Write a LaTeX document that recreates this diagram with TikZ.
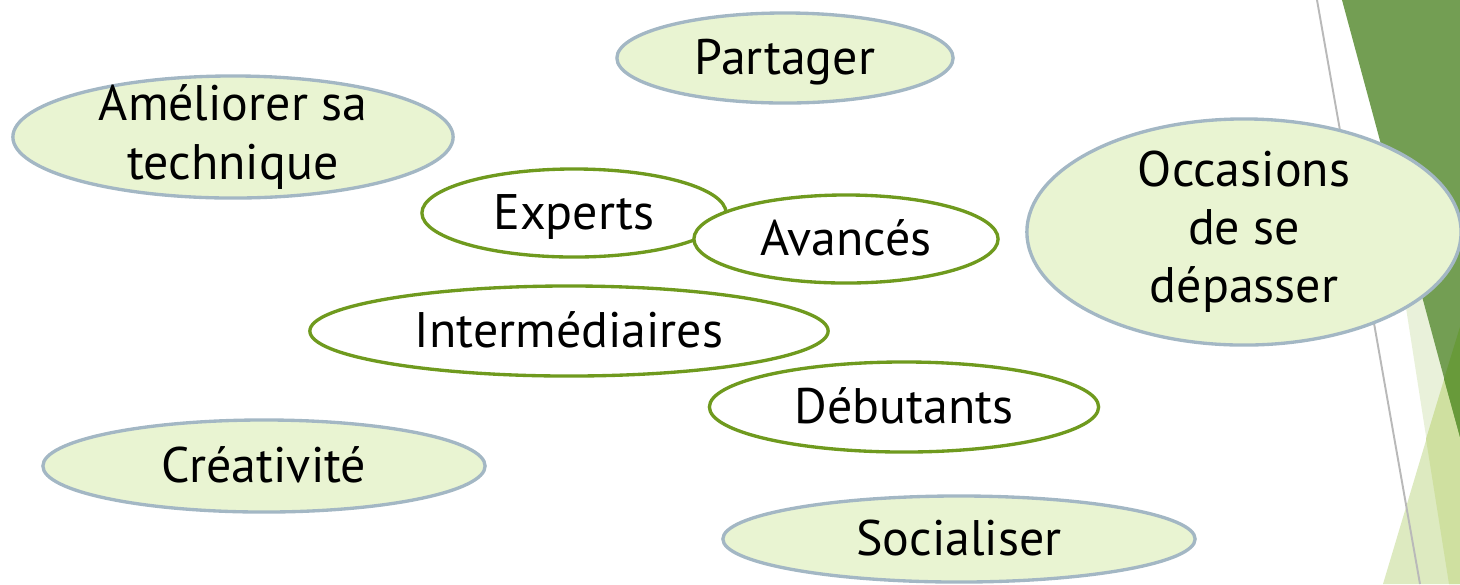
\documentclass[tikz,border=0pt]{standalone}
\usepackage{fontspec}
\setmainfont{PT Sans}
\usetikzlibrary{shapes.geometric}
\definecolor{lightgreen}{RGB}{233,244,210}
\definecolor{bordergray}{RGB}{163,183,196}
\definecolor{olive}{RGB}{111,154,30}
\definecolor{darkgreen}{RGB}{115,158,83}
\definecolor{midgreen}{RGB}{104,154,58}
\definecolor{palegreen}{RGB}{233,241,218}
\definecolor{leafgreen}{RGB}{221,234,192}
\definecolor{overlapgreen}{RGB}{207,224,160}

\begin{document}
\begin{tikzpicture}[x=0.01cm,y=-0.01cm,
		bubble/.style={draw=bordergray,fill=lightgreen,ellipse,line width=0.95pt,inner sep=0pt,align=center,font=\fontsize{14.2}{16.5}\selectfont},
		level/.style={draw=olive,fill=white,ellipse,line width=0.95pt,inner sep=0pt,font=\fontsize{14.2}{16.5}\selectfont},
		oneline/.style={text height=9.6pt,text depth=0pt}]
		\useasboundingbox (0,0) rectangle (1460,584);
		% background on the right
		\fill[palegreen] (1397,250)--(1460,250)--(1460,584)--(1449,584)--cycle;
		\fill[leafgreen] (1383,584)--(1460,327)--(1460,584)--cycle;
		\fill[overlapgreen] (1460,327)--(1426,439)--(1449,584)--(1460,584)--cycle;
		\fill[darkgreen] (1342,0)--(1460,0)--(1460,437)--cycle;
		\fill[midgreen] (1460,327)--(1444,379)--(1460,437)--cycle;
		\draw[gray!55,line width=0.55pt] (1317,0)--(1420,584);

		\node[bubble,oneline,minimum width=3.36cm,minimum height=0.9cm] (partager) at (785,58) {Partager};
		\node[bubble,minimum width=4.4cm,minimum height=1.22cm,inner ysep=-0.4cm] (ameliorer) at (233,137) {Améliorer sa\\technique};
		\node[bubble,oneline,minimum width=4.42cm,minimum height=0.92cm] (creativite) at (264,466) {Créativité};
		\node[bubble,oneline,minimum width=4.72cm,minimum height=0.86cm] (socialiser) at (959,539) {Socialiser};
		\node[bubble,minimum width=4.34cm,minimum height=2.26cm,inner ysep=-0.15cm] (occasions) at (1244,232) {Occasions\\de se\\dépasser};

		\node[level,oneline,minimum width=3.04cm,minimum height=0.88cm] (experts) at (574,213) {Experts};
		\node[level,oneline,minimum width=3.04cm,minimum height=0.88cm] (avances) at (846,239) {Avancés};
		\node[level,oneline,minimum width=5.18cm,minimum height=0.9cm] (intermediaires) at (569,331) {Intermédiaires};
		\node[level,oneline,minimum width=3.89cm,minimum height=0.9cm] (debutants) at (904,407) {Débutants};
	\end{tikzpicture}
\end{document}
